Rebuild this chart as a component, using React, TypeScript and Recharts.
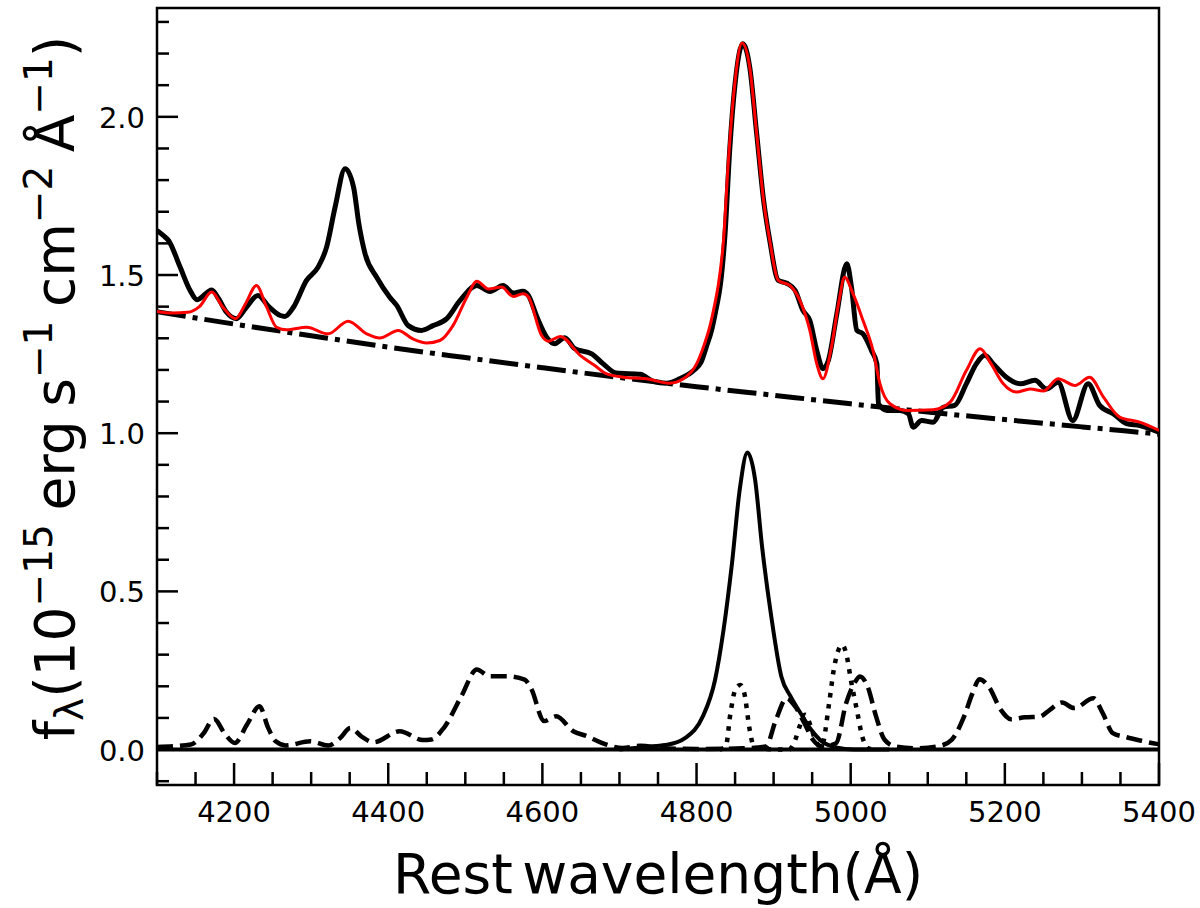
import { Line, LineChart, ReferenceArea, ReferenceLine, XAxis, YAxis } from "recharts";

const FONT = "DejaVu Sans";

// plot frame in page pixels
const PLOT_LEFT = 157;
const PLOT_BOTTOM = 785;

const X_DOMAIN: [number, number] = [4100, 5400];
const Y_DOMAIN: [number, number] = [-0.112, 2.344];

const xTicks = [
  4100, 4150, 4200, 4250, 4300, 4350, 4400, 4450, 4500, 4550, 4600, 4650, 4700,
  4750, 4800, 4850, 4900, 4950, 5000, 5050, 5100, 5150, 5200, 5250, 5300, 5350,
  5400,
];
const yTicks = [
  -0.1, 0, 0.1, 0.2, 0.3, 0.4, 0.5, 0.6, 0.7, 0.8, 0.9, 1.0, 1.1, 1.2, 1.3, 1.4,
  1.5, 1.6, 1.7, 1.8, 1.9, 2.0, 2.1, 2.2, 2.3,
];

// observed spectrum (thick black)
const observedWave = [
  4100, 4108, 4115, 4130, 4143, 4152, 4171, 4180, 4190, 4203, 4215, 4231, 4245,
  4260, 4266, 4277, 4294, 4309, 4320, 4331, 4344, 4355, 4362, 4370, 4385, 4402,
  4411, 4426, 4443, 4458, 4476, 4493, 4515, 4532, 4549, 4562, 4575, 4582, 4593,
  4606, 4616, 4629, 4642, 4664, 4679, 4696, 4727, 4744, 4761, 4778, 4796, 4806,
  4813, 4820, 4826, 4831, 4837, 4843, 4850, 4860, 4869, 4878, 4887, 4895, 4906,
  4917, 4928, 4938, 4947, 4956, 4964, 4971, 4982, 4995, 5001, 5008, 5016, 5027,
  5034, 5036, 5047, 5064, 5075, 5081, 5092, 5107, 5120, 5135, 5150, 5163, 5174,
  5185, 5202, 5220, 5239, 5254, 5269, 5288, 5308, 5323, 5341, 5358, 5375, 5400,
];
const observedFlux = [
  1.641, 1.625, 1.609, 1.525, 1.451, 1.422, 1.453, 1.425, 1.383, 1.362, 1.395,
  1.435, 1.4, 1.372, 1.369, 1.398, 1.483, 1.525, 1.588, 1.714, 1.836, 1.778, 1.66,
  1.567, 1.493, 1.43, 1.404, 1.34, 1.325, 1.34, 1.362, 1.419, 1.467, 1.448, 1.467,
  1.443, 1.449, 1.435, 1.367, 1.302, 1.283, 1.302, 1.267, 1.251, 1.219, 1.19,
  1.186, 1.164, 1.158, 1.172, 1.198, 1.225, 1.275, 1.33, 1.4, 1.47, 1.63, 1.894,
  2.105, 2.231, 2.157, 1.947, 1.736, 1.609, 1.483, 1.474, 1.451, 1.388, 1.356,
  1.261, 1.204, 1.23, 1.377, 1.536, 1.462, 1.325, 1.314, 1.261, 1.219, 1.093,
  1.072, 1.072, 1.061, 1.019, 1.04, 1.035, 1.082, 1.088, 1.156, 1.219, 1.246,
  1.219, 1.177, 1.156, 1.167, 1.14, 1.161, 1.04, 1.156, 1.088, 1.061, 1.03, 1.024,
  1.003,
];

// total model (red)
const modelWave = [
  4100, 4120, 4140, 4155, 4171, 4185, 4202, 4215, 4229, 4242, 4255, 4268, 4294,
  4322, 4348, 4372, 4389, 4413, 4432, 4450, 4467, 4484, 4502, 4515, 4530, 4547,
  4562, 4575, 4582, 4599, 4608, 4623, 4649, 4668, 4683, 4705, 4735, 4765, 4783,
  4800, 4810, 4817, 4823, 4828, 4835, 4841, 4849, 4859, 4869, 4878, 4887, 4895,
  4906, 4921, 4934, 4947, 4956, 4964, 4975, 4985, 4992, 5003, 5016, 5029, 5038,
  5051, 5073, 5107, 5129, 5150, 5168, 5182, 5198, 5215, 5233, 5250, 5269, 5291,
  5310, 5328, 5349, 5375, 5400,
];
const modelFlux = [
  1.385, 1.38, 1.382, 1.4, 1.446, 1.4, 1.362, 1.41, 1.467, 1.4, 1.335, 1.327,
  1.335, 1.314, 1.354, 1.314, 1.301, 1.325, 1.298, 1.285, 1.293, 1.34, 1.43, 1.48,
  1.456, 1.462, 1.432, 1.441, 1.43, 1.309, 1.291, 1.306, 1.246, 1.214, 1.188,
  1.177, 1.172, 1.158, 1.172, 1.219, 1.28, 1.335, 1.4, 1.465, 1.61, 1.85, 2.09,
  2.233, 2.157, 1.947, 1.736, 1.609, 1.483, 1.467, 1.42, 1.325, 1.219, 1.172,
  1.272, 1.42, 1.493, 1.441, 1.356, 1.261, 1.156, 1.093, 1.072, 1.074, 1.098,
  1.198, 1.267, 1.22, 1.156, 1.13, 1.14, 1.133, 1.172, 1.151, 1.177, 1.114, 1.051,
  1.035, 1.009,
];

// power-law continuum (dash-dot)
const continuumWave = [
  4100, 4200, 4300, 4400, 4500, 4600, 4700, 4800, 4900, 5000, 5100, 5200, 5300,
  5400,
];
const continuumFlux = [
  1.384, 1.345, 1.308, 1.272, 1.239, 1.207, 1.176, 1.147, 1.12, 1.093, 1.067,
  1.043, 1.02, 0.997,
];

// broad H-beta (solid)
const broadWave = [
  4700, 4740, 4762, 4785, 4808, 4824, 4835, 4846, 4856, 4866, 4876, 4885, 4897,
  4910, 4922, 4935, 4949, 4963, 4981, 5004, 5050,
];
const broadFlux = [
  0, 0.01, 0.015, 0.036, 0.104, 0.22, 0.378, 0.589, 0.821, 0.939, 0.853, 0.642,
  0.42, 0.231, 0.168, 0.115, 0.062, 0.025, 0.007, 0, 0,
];

// narrow H-beta and [O III] (dotted)
const narrowWave = [
  4830, 4838, 4844, 4851, 4857, 4862, 4869, 4875, 4920, 4928, 4934, 4941, 4948,
  4954, 4962, 4972, 4978, 4985, 4989, 4994, 5001, 5008, 5015, 5022, 5030,
];
const narrowFlux = [
  0, 0.01, 0.115, 0.194, 0.204, 0.178, 0.062, 0.005, 0, 0.03, 0.075, 0.11, 0.075,
  0.03, 0.008, 0.146, 0.252, 0.32, 0.331, 0.305, 0.21, 0.125, 0.041, 0.005, 0,
];

// Fe II template (dashed)
const feWave = [
  4100, 4144, 4160, 4174, 4188, 4201, 4217, 4233, 4244, 4254, 4267, 4299, 4322,
  4337, 4351, 4366, 4381, 4415, 4445, 4456, 4472, 4495, 4515, 4531, 4554, 4577,
  4586, 4602, 4618, 4640, 4658, 4677, 4704, 4727, 4760, 4800, 4860, 4890, 4903,
  4917, 4928, 4940, 4951, 4963, 4981, 4994, 5006, 5012, 5022, 5033, 5044, 5058,
  5085, 5113, 5131, 5147, 5158, 5167, 5179, 5195, 5208, 5226, 5245, 5258, 5274,
  5290, 5315, 5327, 5340, 5358, 5377, 5397, 5400,
];
const feFlux = [
  0.008, 0.016, 0.05, 0.097, 0.05, 0.021, 0.08, 0.137, 0.07, 0.026, 0.013, 0.026,
  0.013, 0.035, 0.068, 0.04, 0.023, 0.058, 0.03, 0.032, 0.068, 0.169, 0.253,
  0.232, 0.232, 0.221, 0.19, 0.09, 0.105, 0.058, 0.042, 0.021, 0.005, 0.012,
  0.003, 0.002, 0.004, 0.01, 0.094, 0.162, 0.136, 0.083, 0.031, 0.01, 0.02, 0.146,
  0.215, 0.231, 0.199, 0.104, 0.031, 0.01, 0.004, 0.01, 0.031, 0.104, 0.178,
  0.222, 0.199, 0.125, 0.096, 0.102, 0.104, 0.125, 0.149, 0.131, 0.162, 0.115,
  0.052, 0.039, 0.028, 0.018, 0.017,
];

function toPoints(wave: number[], flux: number[]) {
  return wave.map((w, i) => ({ wave: w, flux: flux[i] }));
}

function XTick(props: any) {
  const { x, payload } = props;
  const major = payload.value % 200 === 0;
  return (
    <g>
      <line
        x1={x}
        x2={x}
        y1={PLOT_BOTTOM}
        y2={PLOT_BOTTOM - (major ? 22 : 13)}
        stroke="#000"
        strokeWidth={2.5}
      />
      {major && (
        <text x={x} y={822} textAnchor="middle" fontSize={29} fontFamily={FONT} fill="#000">
          {payload.value}
        </text>
      )}
    </g>
  );
}

function YTick(props: any) {
  const { y, payload } = props;
  const v = payload.value as number;
  const major = Math.abs(v * 2 - Math.round(v * 2)) < 1e-6;
  return (
    <g>
      <line
        x1={PLOT_LEFT}
        x2={PLOT_LEFT + (major ? 21 : 12)}
        y1={y}
        y2={y}
        stroke="#000"
        strokeWidth={2.5}
      />
      {major && (
        <text x={145} y={y + 11} textAnchor="end" fontSize={29} fontFamily={FONT} fill="#000">
          {v.toFixed(1)}
        </text>
      )}
    </g>
  );
}

function XTitle() {
  return (
    <text
      x={658}
      y={893}
      textAnchor="middle"
      fontSize={55}
      fontFamily={FONT}
      wordSpacing={-8}
      fill="#000"
    >
      Rest wavelength(Å)
    </text>
  );
}

function YTitle() {
  const sup = 39;
  return (
    <text
      transform="rotate(-90)"
      x={-388}
      y={74}
      textAnchor="middle"
      fontSize={55}
      fontFamily={FONT}
      wordSpacing={-4}
      fill="#000"
    >
      f
      <tspan fontSize={sup} dy={9}>λ</tspan>
      <tspan dy={-9}>(10</tspan>
      <tspan fontSize={sup} dy={-22}>−15</tspan>
      <tspan dy={22}> erg s</tspan>
      <tspan fontSize={sup} dy={-22}>−1</tspan>
      <tspan dy={22}> cm</tspan>
      <tspan fontSize={sup} dy={-22}>−2</tspan>
      <tspan dy={22}> Å</tspan>
      <tspan fontSize={sup} dy={-22}>−1</tspan>
      <tspan dy={22}>)</tspan>
    </text>
  );
}

export default function App() {
  return (
    <div style={{ position: "absolute", left: 0, top: 0, width: 1200, height: 908, background: "#fff" }}>
      <LineChart width={1200} height={908} margin={{ top: 8, right: 41, left: 0, bottom: 0 }}>
        <XAxis
          dataKey="wave"
          type="number"
          domain={X_DOMAIN}
          allowDataOverflow
          ticks={xTicks}
          interval={0}
          height={123}
          axisLine={false}
          tickLine={false}
          tick={(p: any) => <XTick {...p} />}
          label={<XTitle />}
        />
        <YAxis
          type="number"
          domain={Y_DOMAIN}
          allowDataOverflow
          ticks={yTicks}
          interval={0}
          width={157}
          axisLine={false}
          tickLine={false}
          tick={(p: any) => <YTick {...p} />}
          label={<YTitle />}
        />
        <ReferenceArea
          x1={X_DOMAIN[0]}
          x2={X_DOMAIN[1]}
          y1={Y_DOMAIN[0]}
          y2={Y_DOMAIN[1]}
          fill="none"
          stroke="#000"
          strokeWidth={2.5}
          ifOverflow="visible"
        />
        <ReferenceLine y={0} stroke="#000" strokeWidth={4} />
        <Line
          data={toPoints(feWave, feFlux)}
          dataKey="flux"
          type="monotone"
          stroke="#000"
          strokeWidth={4.5}
          strokeDasharray="16 7"
          dot={false}
          activeDot={false}
          isAnimationActive={false}
        />
        <Line
          data={toPoints(narrowWave, narrowFlux)}
          dataKey="flux"
          type="monotone"
          stroke="#000"
          strokeWidth={4.5}
          strokeDasharray="4.5 7"
          dot={false}
          activeDot={false}
          isAnimationActive={false}
        />
        <Line
          data={toPoints(broadWave, broadFlux)}
          dataKey="flux"
          type="monotone"
          stroke="#000"
          strokeWidth={4}
          dot={false}
          activeDot={false}
          isAnimationActive={false}
        />
        <Line
          data={toPoints(continuumWave, continuumFlux)}
          dataKey="flux"
          type="monotone"
          stroke="#000"
          strokeWidth={5}
          strokeDasharray="29 7 5 7"
          dot={false}
          activeDot={false}
          isAnimationActive={false}
        />
        <Line
          data={toPoints(observedWave, observedFlux)}
          dataKey="flux"
          type="monotone"
          stroke="#000"
          strokeWidth={5}
          dot={false}
          activeDot={false}
          isAnimationActive={false}
        />
        <Line
          data={toPoints(modelWave, modelFlux)}
          dataKey="flux"
          type="monotone"
          stroke="#ff0000"
          strokeWidth={3}
          dot={false}
          activeDot={false}
          isAnimationActive={false}
        />
      </LineChart>
    </div>
  );
}
